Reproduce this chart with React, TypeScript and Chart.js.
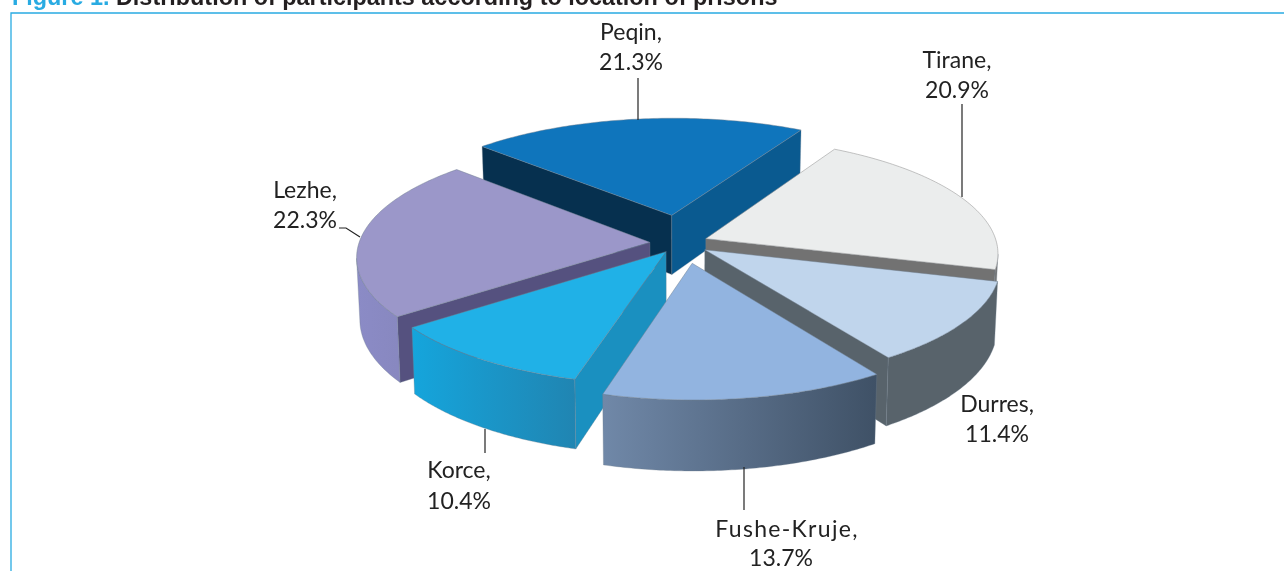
import React, { useEffect, useRef } from "react";
import { Chart, registerables } from "chart.js";

Chart.register(...registerables);

const categories = ["Tirane", "Durres", "Fushe-Kruje", "Korce", "Lezhe", "Peqin"];
const shares = [20.9, 11.4, 13.7, 10.4, 22.3, 21.3];
const explosion = [10, 10, 17.5, 9, 10, 25];
const firstSliceAngle = 30;

const topColors = ["#ebeded", "#c0d5ec", "#92b4e0", "#20b1e7", "#9b97c9", "#0f75bc"];
const innerWallColors = ["#727272", "#58636b", "#5a6f8a", "#1a90c0", "#55517f", "#0a5a90"];
const innerWallStartColors = ["#727272", "#58636b", "#5a6f8a", "#1a90c0", "#55517f", "#06304f"];
const outerWallColors = [
  ["#777777", "#777777"],
  ["#58636b", "#58636b"],
  ["#7088a8", "#3f5166"],
  ["#15a5dc", "#2085b2"],
  ["#8b8bc6", "#8888c0"],
  ["#0a5a90", "#0a5a90"],
];

const sliceNudgeX = [-1, 1, 4, 1, -1, 2];

const labelAnchors = [
  [957, 61],
  [997, 405],
  [787, 530],
  [459, 471],
  [305, 191],
  [631, 33],
];
const valueAnchors = [
  [957, 91],
  [997, 435],
  [781, 559],
  [459, 502],
  [305, 221],
  [631, 63],
];
const leaders = [
  [[962, 104], [962, 197]],
  [],
  [[744, 467], [744, 510]],
  [[485, 429], [485, 453]],
  [[339, 228], [346, 228], [360, 237]],
  [[638, 78], [638, 120]],
];

const RX = 291;
const RY = 115;
const PERSPECTIVE = 0.12;
const DEPTH = 61;
const BOTTOM_SHRINK = 0.99;

const pie3d = {
  id: "pie3d",
  beforeDatasetDraw(chart: any) {
    const ctx = chart.ctx;
    const arcs = chart.getDatasetMeta(0).data;
    const cx = arcs[0].x;
    const cy = arcs[0].y;

    const bottom = (p: any) => ({
      x: cx + (p.x - cx) * BOTTOM_SHRINK,
      y: p.y + DEPTH * p.s,
    });

    const slices = arcs.map((arc: any, i: number) => {
      const top = (u: number, v: number) => {
        const s = 1 / (1 - PERSPECTIVE * v);
        return { x: cx + sliceNudgeX[i] + RX * u * s, y: cy + RY * v * s, s };
      };
      const mid = (arc.startAngle + arc.endAngle) / 2;
      const d = (arc.options.offset || 0) / 100;
      const ox = Math.cos(mid) * d;
      const oy = Math.sin(mid) * d;
      const pts: any[] = [];
      const n = 80;
      for (let k = 0; k <= n; k++) {
        const a = arc.startAngle + ((arc.endAngle - arc.startAngle) * k) / n;
        pts.push(top(Math.cos(a) + ox, Math.sin(a) + oy));
      }
      return { i, arc, pts, apex: top(ox, oy), order: Math.sin(mid) };
    });
    slices.sort((a: any, b: any) => a.order - b.order);

    const edge = "rgba(110,125,140,0.65)";
    const wall = (list: any[], fill: any) => {
      ctx.beginPath();
      list.forEach((p, k) => (k ? ctx.lineTo(p.x, p.y) : ctx.moveTo(p.x, p.y)));
      [...list].reverse().forEach((p) => {
        const b = bottom(p);
        ctx.lineTo(b.x, b.y);
      });
      ctx.closePath();
      ctx.fillStyle = fill;
      ctx.fill();
      ctx.strokeStyle = edge;
      ctx.lineWidth = 0.5;
      ctx.stroke();
    };

    ctx.save();
    slices.forEach(({ i, arc, pts, apex }: any) => {
      const first = pts[0];
      const last = pts[pts.length - 1];
      if (first.x < apex.x) wall([apex, first], innerWallStartColors[i]);
      if (last.x > apex.x) wall([last, apex], innerWallColors[i]);

      let run: any[] = [];
      for (let k = 0; k < pts.length - 1; k++) {
        if (pts[k + 1].x < pts[k].x) {
          if (!run.length) run.push(pts[k]);
          run.push(pts[k + 1]);
        }
      }
      if (run.length > 1) {
        const xs = run.map((p) => p.x);
        const g = ctx.createLinearGradient(Math.min(...xs), 0, Math.max(...xs), 0);
        g.addColorStop(0, outerWallColors[i][0]);
        g.addColorStop(1, outerWallColors[i][1]);
        wall(run, g);
      }

      ctx.beginPath();
      ctx.moveTo(apex.x, apex.y);
      pts.forEach((p: any) => ctx.lineTo(p.x, p.y));
      ctx.closePath();
      ctx.fillStyle = arc.options.backgroundColor;
      ctx.fill();
      ctx.strokeStyle = i === 0 ? "rgba(150,150,150,0.8)" : edge;
      ctx.lineWidth = 0.7;
      ctx.stroke();
    });
    ctx.restore();
    return false;
  },
  afterDraw(chart: any) {
    const ctx = chart.ctx;
    ctx.save();

    // frame
    ctx.strokeStyle = "#29abe2";
    ctx.lineWidth = 1.3;
    ctx.beginPath();
    ctx.moveTo(1284, 13);
    ctx.lineTo(11, 13);
    ctx.lineTo(11, 571);
    ctx.stroke();

    // title
    ctx.textBaseline = "alphabetic";
    ctx.textAlign = "left";
    ctx.font = "bold 23.4px 'Liberation Sans'";
    ctx.fillStyle = "#29abe2";
    ctx.fillText("Figure 1.", 12, 5);
    const w = ctx.measureText("Figure 1. ").width;
    ctx.fillStyle = "#231f20";
    ctx.fillText("Distribution of participants according to location of prisons", 12 + w, 5);

    // leaders
    ctx.strokeStyle = "#222222";
    ctx.lineWidth = 1.2;
    leaders.forEach((line) => {
      if (!line.length) return;
      ctx.beginPath();
      line.forEach((p, k) => (k ? ctx.lineTo(p[0], p[1]) : ctx.moveTo(p[0], p[1])));
      ctx.stroke();
    });

    // labels
    ctx.fillStyle = "#222222";
    ctx.font = "23px Lato";
    ctx.textAlign = "center";
    ctx.textBaseline = "middle";
    categories.forEach((name, i) => {
      const wide = name.length > 6;
      (ctx as any).letterSpacing = wide ? "1.3px" : "0px";
      ctx.fillText(name + ",", labelAnchors[i][0], labelAnchors[i][1]);
      (ctx as any).letterSpacing = "0px";
      ctx.fillText(shares[i].toFixed(1) + "%", valueAnchors[i][0], valueAnchors[i][1]);
    });
    ctx.restore();
  },
};

export default function App() {
  const ref = useRef<HTMLCanvasElement>(null);
  useEffect(() => {
    document.body.style.margin = "0";
    document.body.style.background = "#ffffff";
    const chart = new Chart(ref.current as HTMLCanvasElement, {
      type: "pie",
      data: {
        labels: categories,
        datasets: [
          {
            data: shares,
            backgroundColor: topColors,
            offset: explosion,
            borderWidth: 0,
          },
        ],
      },
      options: {
        responsive: false,
        animation: false,
        rotation: firstSliceAngle,
        layout: { padding: { left: 76, bottom: 85 } },
        plugins: {
          legend: { display: false },
          title: { display: false },
          tooltip: { enabled: false },
        },
      },
      plugins: [pie3d],
    } as any);
    return () => chart.destroy();
  }, []);
  return (
    <canvas
      ref={ref}
      width={1284}
      height={571}
      style={{ display: "block", width: 1284, height: 571 }}
    />
  );
}
